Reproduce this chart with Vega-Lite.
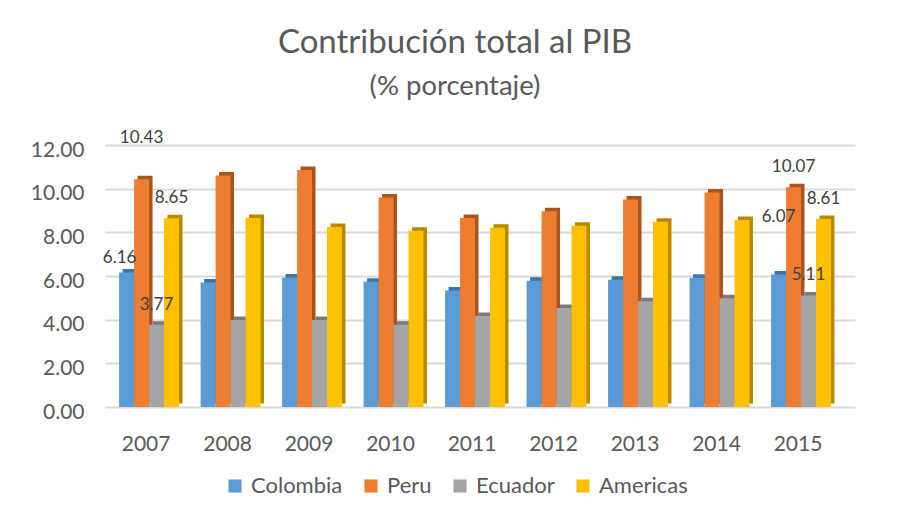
{
  "$schema": "https://vega.github.io/schema/vega-lite/v6.json",
  "width": 750,
  "height": 262,
  "autosize": {"type": "none"},
  "padding": {"left": 105, "top": 145, "right": 47, "bottom": 115},
  "background": "white",
  "config": {"view": {"stroke": null}},
  "title": {
    "text": "Contribución total al PIB",
    "subtitle": "(% porcentaje)",
    "anchor": "middle",
    "dx": -25,
    "font": "Lato",
    "fontSize": 33,
    "fontWeight": "normal",
    "color": "#595959",
    "subtitleFont": "Lato",
    "subtitleFontSize": 27.5,
    "subtitleColor": "#595959",
    "subtitlePadding": 13,
    "offset": 29
  },
  "data": {
    "values": [
      {"year": 2007, "country": "Colombia", "value": 6.16},
      {"year": 2007, "country": "Peru", "value": 10.43},
      {"year": 2007, "country": "Ecuador", "value": 3.77},
      {"year": 2007, "country": "Americas", "value": 8.65},
      {"year": 2008, "country": "Colombia", "value": 5.70},
      {"year": 2008, "country": "Peru", "value": 10.60},
      {"year": 2008, "country": "Ecuador", "value": 3.98},
      {"year": 2008, "country": "Americas", "value": 8.66},
      {"year": 2009, "country": "Colombia", "value": 5.93},
      {"year": 2009, "country": "Peru", "value": 10.85},
      {"year": 2009, "country": "Ecuador", "value": 3.99},
      {"year": 2009, "country": "Americas", "value": 8.25},
      {"year": 2010, "country": "Colombia", "value": 5.74},
      {"year": 2010, "country": "Peru", "value": 9.60},
      {"year": 2010, "country": "Ecuador", "value": 3.77},
      {"year": 2010, "country": "Americas", "value": 8.07},
      {"year": 2011, "country": "Colombia", "value": 5.34},
      {"year": 2011, "country": "Peru", "value": 8.66},
      {"year": 2011, "country": "Ecuador", "value": 4.17},
      {"year": 2011, "country": "Americas", "value": 8.21},
      {"year": 2012, "country": "Colombia", "value": 5.78},
      {"year": 2012, "country": "Peru", "value": 8.97},
      {"year": 2012, "country": "Ecuador", "value": 4.53},
      {"year": 2012, "country": "Americas", "value": 8.30},
      {"year": 2013, "country": "Colombia", "value": 5.83},
      {"year": 2013, "country": "Peru", "value": 9.50},
      {"year": 2013, "country": "Ecuador", "value": 4.84},
      {"year": 2013, "country": "Americas", "value": 8.48},
      {"year": 2014, "country": "Colombia", "value": 5.92},
      {"year": 2014, "country": "Peru", "value": 9.82},
      {"year": 2014, "country": "Ecuador", "value": 4.98},
      {"year": 2014, "country": "Americas", "value": 8.57},
      {"year": 2015, "country": "Colombia", "value": 6.07},
      {"year": 2015, "country": "Peru", "value": 10.07},
      {"year": 2015, "country": "Ecuador", "value": 5.11},
      {"year": 2015, "country": "Americas", "value": 8.61}
    ]
  },
  "encoding": {
    "x": {
      "field": "year",
      "type": "nominal",
      "scale": {"paddingInner": 0.265, "paddingOuter": 0.234, "align": 0.37},
      "axis": {
        "title": null,
        "labelAngle": 0,
        "labelFont": "Lato",
        "labelFontSize": 21,
        "labelColor": "#595959",
        "labelPadding": 26,
        "labelOffset": -3,
        "ticks": false,
        "domain": false,
        "grid": false
      }
    },
    "y": {
      "field": "value",
      "type": "quantitative",
      "scale": {"domain": [0, 12], "nice": false},
      "axis": {
        "title": null,
        "values": [0, 2, 4, 6, 8, 10, 12],
        "format": ".2f",
        "labelFont": "Lato",
        "labelFontSize": 21,
        "labelColor": "#595959",
        "labelPadding": 21,
        "labelOffset": 5,
        "ticks": false,
        "domain": false,
        "gridColor": "#D9D9D9",
        "gridWidth": 2
      }
    }
  },
  "layer": [
    {
      "mark": {"type": "bar", "yOffset": -3.5},
      "encoding": {
        "xOffset": {
          "field": "country",
          "type": "nominal",
          "sort": ["Colombia", "Peru", "Ecuador", "Americas"],
          "scale": {"paddingInner": 0, "paddingOuter": 0, "range": [3.5, 63.4]}
        },
        "color": {
          "field": "country",
          "type": "nominal",
          "scale": {
            "domain": ["Colombia", "Peru", "Ecuador", "Americas"],
            "range": ["#3E73A6", "#A9551F", "#7A7A7A", "#B58A00"]
          },
          "legend": null
        }
      }
    },
    {
      "layer": [
        {
          "mark": {"type": "bar"},
          "encoding": {
            "color": {
              "field": "country",
              "type": "nominal",
              "scale": {
                "domain": ["Colombia", "Peru", "Ecuador", "Americas"],
                "range": ["#5B9BD5", "#ED7D31", "#A5A5A5", "#FFC000"]
              },
              "legend": {
                "orient": "none",
                "legendX": 119,
                "legendY": 330,
                "direction": "horizontal",
                "title": null,
                "symbolType": "square",
                "symbolSize": 170,
                "symbolStrokeWidth": 0,
                "labelFont": "Lato",
                "labelFontSize": 22,
                "labelColor": "#595959",
                "labelOffset": 5,
                "columnPadding": 17
              }
            }
          }
        },
        {
          "transform": [
            {"filter": "(datum.year == 2007 || datum.year == 2015) && !(datum.year == 2007 && datum.country == 'Colombia') && !(datum.year == 2007 && datum.country == 'Peru') && !(datum.year == 2015 && datum.country == 'Colombia')"}
          ],
          "mark": {"type": "text", "dy": -20, "font": "Lato", "fontSize": 17, "color": "#404040"},
          "encoding": {"text": {"field": "value", "type": "quantitative", "format": ".2f"}}
        },
        {
          "transform": [{"filter": "datum.year == 2007 && datum.country == 'Colombia'"}],
          "mark": {"type": "text", "dx": -7, "dy": -15, "font": "Lato", "fontSize": 17, "color": "#404040"},
          "encoding": {"text": {"field": "value", "type": "quantitative", "format": ".2f"}}
        },
        {
          "transform": [{"filter": "datum.year == 2007 && datum.country == 'Peru'"}],
          "mark": {"type": "text", "dy": -41, "font": "Lato", "fontSize": 17, "color": "#404040"},
          "encoding": {"text": {"field": "value", "type": "quantitative", "format": ".2f"}}
        },
        {
          "transform": [{"filter": "datum.year == 2015 && datum.country == 'Colombia'"}],
          "mark": {"type": "text", "dy": -57, "font": "Lato", "fontSize": 17, "color": "#404040"},
          "encoding": {"text": {"field": "value", "type": "quantitative", "format": ".2f"}}
        }
      ],
      "encoding": {
        "xOffset": {
          "field": "country",
          "type": "nominal",
          "sort": ["Colombia", "Peru", "Ecuador", "Americas"],
          "scale": {"paddingInner": 0, "paddingOuter": 0}
        }
      }
    }
  ],
  "resolve": {"scale": {"color": "independent", "xOffset": "independent"}}
}
